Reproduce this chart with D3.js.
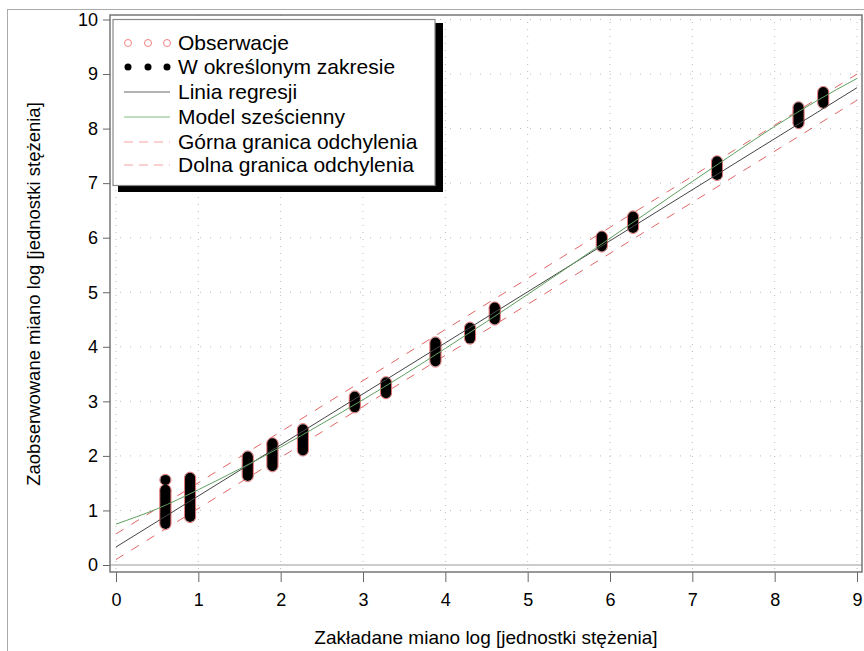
<!DOCTYPE html>
<html><head><meta charset="utf-8">
<script src="https://cdn.jsdelivr.net/npm/d3@7"></script>
<style>body{margin:0;background:#fff}svg{display:block;font-family:"Liberation Sans",Arial,sans-serif}</style>
</head><body><svg id="c" width="864" height="651"></svg>
<script>
// ---- data ----
const xTicks = [0,1,2,3,4,5,6,7,8,9];
const yTicks = [0,1,2,3,4,5,6,7,8,9,10];
const clusterX = [0.6, 0.9, 1.6, 1.9, 2.27, 2.9, 3.28, 3.88, 4.3, 4.6, 5.9, 6.28, 7.3, 8.29, 8.59];
const clusterY = [
  [0.75,0.79,0.83,0.87,0.91,0.95,0.99,1.03,1.07,1.11,1.15,1.19,1.23,1.27,1.31,1.35,1.38,1.56],
  [0.88,0.92,0.96,1.00,1.04,1.08,1.12,1.16,1.20,1.24,1.28,1.32,1.36,1.40,1.44,1.48,1.52,1.56,1.60],
  [1.63,1.67,1.71,1.75,1.79,1.83,1.87,1.91,1.95,1.99],
  [1.81,1.85,1.89,1.93,1.97,2.01,2.05,2.09,2.13,2.17,2.21,2.23],
  [2.10,2.14,2.18,2.22,2.26,2.30,2.34,2.38,2.42,2.46,2.49],
  [2.89,2.93,2.97,3.01,3.05,3.09],
  [3.15,3.19,3.23,3.27,3.31,3.35],
  [3.73,3.77,3.81,3.85,3.89,3.93,3.97,4.01,4.05,4.08],
  [4.15,4.19,4.23,4.27,4.31,4.35],
  [4.50,4.54,4.58,4.62,4.66,4.70,4.72],
  [5.84,5.88,5.92,5.96,6.00,6.02],
  [6.18,6.22,6.26,6.30,6.34,6.39],
  [7.15,7.19,7.23,7.27,7.31,7.35,7.40],
  [8.10,8.14,8.18,8.22,8.26,8.30,8.34,8.39],
  [8.47,8.51,8.55,8.59,8.63,8.67]
];
const lineX = [0, 9];
const regY = [0.33, 8.75];
const upperY = [0.57, 9.0];
const lowerY = [0.10, 8.52];
const cubicX = [0,0.5,1,1.5,2,2.5,3,3.5,4,4.5,5,5.5,6,6.5,7,7.5,8,8.5,9];
const cubicY = [0.75,1.03,1.38,1.76,2.16,2.59,3.03,3.49,3.97,4.46,4.96,5.47,5.99,6.51,7.03,7.54,8.04,8.50,8.92];
const legendLabels = ["Obserwacje","W określonym zakresie","Linia regresji","Model sześcienny","Górna granica odchylenia","Dolna granica odchylenia"];
const xTitle = "Zakładane miano log [jednostki stężenia]";
const yTitle = "Zaobserwowane miano log [jednostki stężenia]";

// ---- drawing ----
const svg = d3.select("#c");
const x = d3.scaleLinear().domain([0,9]).range([116,857]);
const y = d3.scaleLinear().domain([0,10]).range([565,19.5]);
const frame = {l:110, r:862, t:15, b:572};
const FF = "Liberation Sans, Arial, sans-serif";

svg.append("rect").attr("x",7.5).attr("y",9.5).attr("width",870).attr("height",660)
  .attr("fill","none").attr("stroke","#aaa");

// grid
const g = svg.append("g");
g.selectAll(".vg").data(xTicks).join("line")
  .attr("x1",d=>x(d)).attr("x2",d=>x(d)).attr("y1",frame.t).attr("y2",frame.b)
  .attr("stroke","#bbb").attr("stroke-dasharray","1,6");
g.selectAll(".hg").data(yTicks).join("line")
  .attr("y1",d=>y(d)).attr("y2",d=>y(d)).attr("x1",frame.l).attr("x2",frame.r)
  .attr("stroke",d=>d===0?"#999":"#bbb").attr("stroke-dasharray",d=>d===0?null:"1,9");

// axes
const xAxis = d3.axisBottom(x).tickValues(xTicks).tickSize(10).tickPadding(11).tickFormat(d3.format("d"));
const ax = svg.append("g").attr("transform",`translate(0,${frame.b})`).call(xAxis);
ax.select(".domain").remove();
ax.selectAll("line").attr("stroke","#666");
ax.selectAll("text").attr("font-size",18).attr("fill","#000").attr("font-family",FF);
const yAxis = d3.axisLeft(y).tickValues(yTicks).tickSize(7).tickPadding(5).tickFormat(d3.format("d"));
const ay = svg.append("g").attr("transform",`translate(${frame.l},0)`).call(yAxis);
ay.select(".domain").remove();
ay.selectAll("line").attr("stroke","#666");
ay.selectAll("text").attr("font-size",18).attr("fill","#000").attr("font-family",FF);

svg.append("rect").attr("x",frame.l).attr("y",frame.t).attr("width",frame.r-frame.l).attr("height",frame.b-frame.t)
  .attr("fill","none").attr("stroke","#777").attr("stroke-width",1.5);

// lines
svg.append("defs").append("clipPath").attr("id","cp").append("rect")
  .attr("x",frame.l).attr("y",frame.t).attr("width",frame.r-frame.l).attr("height",frame.b-frame.t);
const lg = svg.append("g").attr("clip-path","url(#cp)");
const line = d3.line().x(d=>x(d[0])).y(d=>y(d[1]));
const cline = d3.line().x(d=>x(d[0])).y(d=>y(d[1])).curve(d3.curveMonotoneX);
lg.append("path").attr("d",line(d3.zip(lineX,upperY))).attr("fill","none").attr("stroke","#e06666").attr("stroke-width",1).attr("stroke-dasharray","9,9");
lg.append("path").attr("d",line(d3.zip(lineX,lowerY))).attr("fill","none").attr("stroke","#e06666").attr("stroke-width",1).attr("stroke-dasharray","9,9");

// points
const pts = [];
clusterX.forEach((cx,i)=>clusterY[i].forEach(v=>pts.push([cx,v])));
lg.selectAll(".obs").data(pts).join("circle").attr("cx",d=>x(d[0])).attr("cy",d=>y(d[1])).attr("r",5.6)
  .attr("fill","none").attr("stroke","#e07070").attr("stroke-width",1);
lg.selectAll(".inr").data(pts).join("circle").attr("cx",d=>x(d[0])).attr("cy",d=>y(d[1])).attr("r",5)
  .attr("fill","#000");

lg.append("path").attr("d",line(d3.zip(lineX,regY))).attr("fill","none").attr("stroke","#444").attr("stroke-width",1);
lg.append("path").attr("d",cline(d3.zip(cubicX,cubicY))).attr("fill","none").attr("stroke","#5f9f5f").attr("stroke-width",1);

// legend
const L = svg.append("g");
L.append("rect").attr("x",118).attr("y",23).attr("width",325).attr("height",169).attr("fill","#000");
L.append("rect").attr("x",113).attr("y",19.5).attr("width",322).attr("height",166).attr("fill","#fff").attr("stroke","#888").attr("stroke-width",1.2);
const rowY = [43,67,92,117,142,165];
legendLabels.forEach((t,i)=>{
  const ry = rowY[i];
  if(i===0){ [128,148,167].forEach(cx=>L.append("circle").attr("cx",cx).attr("cy",ry).attr("r",3.5).attr("fill","none").attr("stroke","#f08080").attr("stroke-width",1)); }
  else if(i===1){ [128,148,167].forEach(cx=>L.append("circle").attr("cx",cx).attr("cy",ry).attr("r",3.5).attr("fill","#000")); }
  else {
    const col = i===2?"#666":(i===3?"#7fbf7f":"#f4a0a0");
    L.append("line").attr("x1",124).attr("x2",170).attr("y1",ry).attr("y2",ry).attr("stroke",col).attr("stroke-width",1)
      .attr("stroke-dasharray",i>=4?"9,6":null);
  }
  L.append("text").attr("x",178).attr("y",ry+7).attr("font-size",21).attr("fill","#000").text(t);
});

// titles
svg.append("text").attr("x",486).attr("y",644).attr("text-anchor","middle").attr("font-size",19).text(xTitle);
svg.append("text").attr("transform","translate(40,294) rotate(-90)").attr("text-anchor","middle").attr("font-size",18.5).text(yTitle);
</script></body></html>
